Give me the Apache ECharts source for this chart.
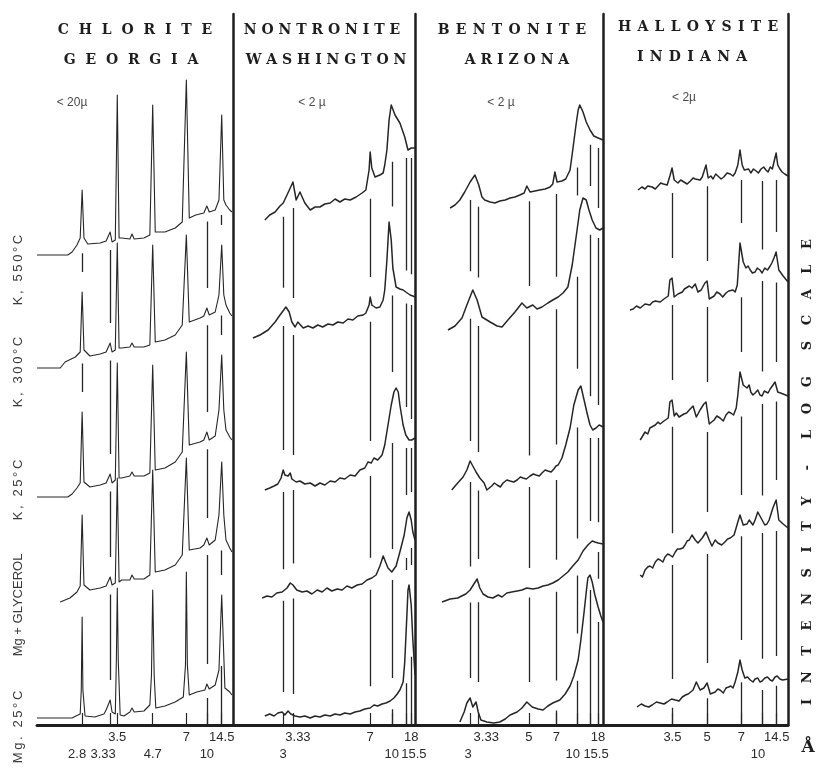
<!DOCTYPE html>
<html><head><meta charset="utf-8">
<script src="https://cdn.jsdelivr.net/npm/echarts@6/dist/echarts.min.js"></script>
<style>html,body{margin:0;padding:0;background:#fff}#c{width:817px;height:771px}</style>
</head><body><div id="c"></div>
<script>
// ---------------- DATA (2-theta in degrees, intensity in chart units, log scale, traces stacked) -------------
// Chlorite, Georgia (<20 micron)
const chlMg25 = [[40.3,7],[33.8,7],[33.1,9],[32.3,11],[32.1,35],[31.94,108],[31.8,35],[31.4,9],[29.6,8],[27.9,11],[27.5,15],[26.75,25],[26.4,13],[25.8,11],[25.6,65],[25.43,137],[25.25,65],[24.9,10],[24.2,9],[23.1,13],[22.7,17],[22.3,13],[20.5,14],[19.4,20],[19.1,50],[18.87,135],[18.6,50],[18.3,17],[16.6,19],[14.7,23],[13.2,28],[12.8,60],[12.64,153],[12.45,60],[12.1,30],[10.7,33],[9.2,35],[8.84,41],[8.4,36],[7.3,40],[6.6,55],[6.3,100],[6.09,130],[5.9,100],[5.5,37],[4.6,33],[4.2,30]];
const chlMgGly = [[36.0,123],[34.2,127],[32.9,133],[32.3,139],[31.94,210],[31.6,140],[30.5,135],[28.6,137],[27.5,139],[26.75,148],[26.4,140],[25.8,142],[25.43,247],[25.1,143],[24.6,145],[23.1,145],[22.7,150],[22.3,146],[20.5,146],[19.4,150],[18.87,255],[18.4,153],[16.6,155],[14.7,160],[13.4,170],[12.64,267],[12.1,175],[10.1,177],[9.4,180],[8.84,187],[8.4,180],[7.3,185],[6.6,210],[6.09,263],[5.7,210],[5.3,185],[4.6,177],[4.2,173]];
const chlK25 = [[40.3,228],[34.6,228],[33.8,231],[32.9,237],[32.3,242],[31.94,313],[31.6,243],[30.5,238],[28.6,240],[27.5,242],[26.75,251],[26.4,242],[25.8,245],[25.43,362],[25.1,247],[24.6,247],[23.1,249],[22.7,253],[22.3,249],[20.5,249],[19.4,252],[18.87,360],[18.4,255],[16.6,257],[14.7,263],[13.4,273],[12.64,373],[12.1,280],[10.1,283],[9.4,285],[8.84,293],[8.4,285],[7.3,289],[6.6,315],[6.09,370],[5.7,315],[5.3,295],[4.6,288],[4.2,285]];
const chlK300 = [[40.3,357],[36.0,357],[35.1,363],[33.2,368],[32.3,373],[31.94,433],[31.6,375],[30.5,369],[28.6,371],[27.5,373],[26.75,382],[26.4,373],[25.8,375],[25.43,482],[25.1,377],[24.6,377],[23.1,378],[22.7,382],[22.3,378],[20.5,378],[19.4,380],[18.87,480],[18.4,383],[16.6,385],[14.7,390],[13.4,400],[12.64,490],[12.1,403],[10.1,407],[9.4,409],[8.84,417],[8.4,410],[7.3,413],[6.6,430],[6.09,480],[5.7,430],[5.3,420],[4.6,412],[4.2,409]];
const chlK550 = [[40.3,470],[34.6,470],[33.8,473],[32.9,480],[32.3,487],[31.94,535],[31.6,487],[30.9,481],[28.6,482],[27.5,484],[26.75,493],[26.4,483],[25.8,485],[25.43,630],[25.1,487],[24.6,487],[23.1,486],[22.7,491],[22.3,486],[20.5,487],[19.4,490],[18.87,620],[18.4,493],[16.6,493],[14.7,497],[13.4,503],[12.64,645],[12.1,507],[10.9,510],[9.4,512],[8.84,519],[8.4,513],[7.3,515],[6.6,525],[6.09,610],[5.7,525],[5.3,520],[4.6,515],[4.2,513]];

// Nontronite, Washington (<2 micron)
const nonMg25 = [[31.8,9],[30.9,11],[30.1,9],[29.4,12],[28.6,13],[28.1,10],[27.5,14],[27.0,11],[26.2,9],[25.3,8],[24.4,9],[23.4,7],[22.5,9],[21.6,8],[20.7,10],[19.7,9],[18.8,11],[17.9,10],[17.0,12],[16.0,11],[15.1,13],[14.2,14],[13.3,16],[12.3,17],[11.6,20],[10.9,19],[10.1,21],[9.4,22],[8.6,24],[7.9,27],[7.3,31],[6.8,35],[6.2,43],[5.9,63],[5.5,110],[5.3,135],[5.1,140],[4.7,120],[4.4,85],[4.0,50]];
const nonMgGly = [[32.3,127],[31.4,129],[30.5,128],[29.6,132],[28.6,133],[27.7,137],[27.1,142],[26.6,140],[25.9,135],[24.9,133],[24.0,134],[23.1,131],[22.1,135],[21.2,133],[20.3,137],[19.4,134],[18.4,136],[17.5,135],[16.6,139],[15.7,137],[14.7,140],[13.8,141],[12.9,145],[12.0,147],[11.2,150],[10.5,159],[9.9,169],[9.6,167],[9.0,157],[8.3,153],[7.5,159],[6.8,173],[6.0,190],[5.5,207],[5.1,213],[4.7,205],[4.4,193],[4.0,185]];
const nonK25 = [[31.8,235],[30.9,237],[30.1,239],[29.4,241],[28.8,247],[28.4,255],[28.1,250],[27.5,249],[27.1,252],[26.8,246],[26.0,243],[25.3,244],[24.4,241],[23.4,242],[22.5,239],[21.6,242],[20.7,240],[19.7,244],[18.8,243],[17.9,247],[17.0,246],[16.0,250],[15.1,249],[14.2,255],[13.3,257],[12.7,263],[12.1,262],[11.6,267],[10.9,265],[10.1,270],[9.6,280],[9.0,300],[8.4,320],[7.9,333],[7.5,337],[7.1,333],[6.8,320],[6.2,300],[5.7,290],[5.1,285],[4.6,285],[4.0,287]];
const nonK300 = [[34.0,387],[32.7,390],[31.2,395],[29.9,403],[29.0,410],[28.3,415],[27.9,418],[27.3,413],[26.8,403],[26.2,398],[25.7,403],[24.7,397],[23.8,399],[22.9,397],[22.0,400],[21.1,398],[20.1,401],[19.2,400],[18.3,403],[17.3,402],[16.4,406],[15.5,405],[14.6,409],[13.6,410],[13.1,412],[12.5,420],[12.3,428],[12.0,420],[11.2,417],[10.5,418],[9.9,425],[9.6,435],[9.2,465],[8.8,503],[8.4,485],[8.1,457],[7.5,438],[6.8,436],[6.2,435],[5.7,433],[4.9,430],[4.4,429],[4.0,428]];
const nonK550 = [[31.8,505],[30.9,510],[29.9,513],[29.0,519],[28.4,522],[27.7,530],[27.1,537],[26.6,543],[26.0,525],[25.3,533],[24.4,522],[23.4,515],[22.5,518],[21.6,518],[20.7,521],[19.7,522],[18.8,526],[17.9,523],[17.0,526],[16.0,525],[14.9,528],[13.8,532],[13.1,535],[12.5,555],[12.3,573],[12.0,557],[11.4,548],[10.5,550],[9.9,552],[9.6,560],[9.2,575],[8.8,605],[8.4,620],[7.7,610],[6.8,602],[5.9,588],[5.3,575],[4.7,577],[4.0,577]];

// Bentonite, Arizona (<2 micron)
const benMg25 = [[30.5,3],[29.7,13],[29.2,22],[28.6,27],[28.1,18],[27.5,23],[27.1,13],[26.6,5],[25.5,3],[24.2,2],[23.1,3],[22.1,6],[21.2,10],[19.9,13],[19.0,17],[18.1,23],[17.1,18],[16.0,16],[15.1,15],[14.2,19],[13.3,22],[12.0,25],[11.0,31],[10.1,39],[9.4,49],[8.6,65],[8.1,85],[7.5,113],[7.1,133],[6.8,147],[6.4,150],[6.0,143],[5.5,130],[4.9,118],[4.4,109],[4.0,103]];
const benMgGly = [[33.8,123],[32.3,126],[30.9,127],[29.4,131],[28.6,135],[27.9,141],[27.3,146],[26.8,137],[26.2,131],[25.3,128],[24.4,127],[23.4,130],[22.7,128],[21.8,132],[20.9,133],[19.9,134],[19.0,135],[18.1,137],[17.0,136],[16.0,137],[15.1,139],[14.2,140],[13.3,142],[12.3,145],[11.4,149],[10.5,153],[9.6,159],[8.6,165],[7.7,174],[6.8,180],[6.0,184],[5.5,183],[4.9,182],[4.0,181]];
const benK25 = [[32.0,235],[30.9,242],[29.9,248],[29.2,255],[28.6,264],[28.1,259],[27.5,253],[26.8,247],[26.0,242],[25.5,235],[24.6,239],[24.1,242],[23.6,240],[23.0,238],[22.5,242],[21.8,245],[21.2,244],[20.5,243],[19.9,245],[19.3,248],[18.8,247],[18.2,246],[17.5,249],[16.9,251],[16.4,250],[15.8,249],[15.3,252],[14.7,255],[14.2,254],[13.6,253],[13.1,256],[12.7,259],[12.3,260],[11.6,267],[10.9,280],[10.1,297],[9.4,320],[8.6,335],[8.1,339],[7.5,325],[7.0,313],[6.4,300],[5.9,295],[5.3,297],[4.7,300],[4.0,298]];
const benK300 = [[32.7,395],[31.4,399],[30.1,407],[29.2,420],[28.1,435],[27.3,425],[26.4,408],[24.9,403],[23.6,399],[22.7,398],[21.6,405],[20.3,413],[19.0,422],[18.1,417],[17.0,420],[16.2,416],[15.3,418],[14.2,422],[13.3,425],[12.3,428],[11.4,432],[10.5,438],[9.7,460],[8.8,495],[8.3,515],[7.7,527],[7.1,525],[6.6,515],[6.0,505],[5.3,497],[4.6,495],[4.0,497]];
const benK550 = [[32.3,517],[31.4,520],[30.5,525],[29.6,533],[28.6,543],[27.7,550],[27.0,540],[26.4,528],[25.9,525],[24.9,523],[24.0,522],[23.1,524],[22.1,525],[21.2,527],[20.3,528],[19.4,530],[18.6,532],[18.1,539],[17.5,533],[16.6,534],[15.7,535],[14.7,536],[13.8,538],[13.3,541],[12.9,553],[12.5,543],[11.6,544],[10.9,546],[10.1,555],[9.6,575],[9.0,600],[8.6,615],[8.3,620],[7.7,613],[7.1,603],[6.4,595],[5.7,589],[4.9,587],[4.0,585]];

// Halloysite, Indiana (<2 micron)
const halMg25 = [[32.0,18],[31.2,21],[30.5,19],[29.8,18],[29.2,20],[28.4,23],[27.7,22],[27.0,21],[26.4,23],[25.6,26],[24.9,25],[24.2,24],[23.6,28],[23.0,30],[22.5,31],[21.6,35],[21.0,43],[20.7,45],[20.3,35],[19.6,37],[19.0,42],[18.4,31],[17.5,33],[17.0,36],[16.6,35],[16.0,32],[15.5,37],[15.0,38],[14.6,39],[14.2,37],[13.8,43],[13.3,53],[12.9,65],[12.5,55],[12.0,47],[11.5,48],[11.0,45],[10.5,43],[10.1,46],[9.6,47],[9.2,43],[8.8,44],[8.3,47],[7.8,48],[7.3,45],[6.9,44],[6.4,48],[6.0,49],[5.5,46],[5.0,45],[4.0,46]];
const halMgGly = [[31.4,150],[31.0,148],[30.5,155],[30.0,158],[29.6,159],[29.1,157],[28.6,163],[28.1,166],[27.7,165],[27.2,163],[26.8,168],[26.3,171],[25.9,170],[25.4,168],[24.9,173],[24.5,176],[24.0,176],[23.5,177],[23.1,180],[22.7,184],[22.3,185],[21.8,190],[21.2,185],[20.7,182],[19.9,187],[19.2,193],[18.6,185],[18.1,179],[17.5,185],[17.0,182],[16.3,180],[15.7,183],[15.2,186],[14.7,187],[14.0,190],[13.3,203],[12.9,210],[12.3,200],[11.6,201],[11.2,205],[10.9,203],[10.5,200],[10.1,205],[9.6,213],[9.0,207],[8.7,206],[8.3,200],[7.9,201],[7.5,205],[6.8,217],[6.2,225],[5.7,205],[4.9,201],[4.0,197]];
const halK25 = [[31.4,285],[30.5,293],[30.0,291],[29.6,297],[28.6,300],[28.1,303],[27.7,301],[27.0,304],[26.2,307],[25.9,323],[25.5,325],[25.1,309],[24.7,312],[24.2,308],[23.3,311],[22.8,312],[22.3,315],[21.6,319],[21.0,308],[20.3,315],[19.6,321],[19.2,323],[18.6,301],[17.7,305],[17.2,309],[16.6,307],[16.0,304],[15.5,310],[15.0,313],[14.6,312],[14.1,310],[13.6,317],[13.3,330],[12.9,353],[12.3,340],[11.6,337],[11.2,340],[10.9,333],[10.5,330],[10.1,332],[9.6,335],[9.2,330],[8.8,329],[8.4,334],[7.7,332],[7.3,336],[7.0,335],[6.4,343],[5.9,333],[4.9,331],[4.0,329]];
const halK300 = [[33.3,415],[32.7,416],[32.1,419],[31.4,417],[30.5,421],[29.6,420],[29.1,423],[28.6,424],[27.7,423],[27.0,426],[26.2,429],[25.9,445],[25.5,447],[25.1,428],[24.8,429],[24.4,431],[23.6,433],[23.2,436],[22.9,436],[22.3,439],[21.8,437],[21.2,441],[20.7,433],[20.1,435],[19.4,442],[19.0,444],[18.6,426],[17.7,429],[17.2,433],[16.6,431],[16.1,428],[15.5,432],[15.0,434],[14.2,435],[13.8,433],[13.4,440],[12.9,482],[12.3,463],[11.8,457],[11.4,459],[11.0,455],[10.6,452],[10.1,453],[9.7,457],[9.2,455],[8.8,452],[8.3,457],[7.8,455],[7.3,459],[7.0,462],[6.6,467],[6.2,473],[5.7,455],[4.9,449],[4.0,443]];
const halK550 = [[31.8,535],[31.1,538],[30.5,536],[30.0,539],[29.2,538],[28.6,536],[28.1,539],[27.6,542],[27.1,541],[26.4,540],[25.9,549],[25.5,557],[25.1,545],[24.4,542],[23.9,545],[23.3,543],[22.7,541],[22.1,544],[21.6,547],[21.2,546],[20.3,545],[19.9,548],[19.6,549],[19.2,560],[18.8,547],[18.3,549],[17.9,546],[17.4,551],[17.0,549],[16.4,546],[15.9,548],[15.3,552],[14.7,551],[14.2,549],[13.8,552],[13.3,560],[12.9,575],[12.5,560],[12.1,555],[11.8,553],[11.3,556],[10.9,552],[10.4,556],[9.9,554],[9.5,552],[9.0,556],[8.5,558],[8.1,555],[7.7,553],[7.3,558],[6.9,556],[6.6,563],[6.2,572],[5.9,560],[5.5,556],[5.1,553],[4.6,551],[4.0,549]];

// reference d-spacing lines drawn between the traces (2-theta)
const refChl = [31.94, 26.75, 8.84, 6.09];
const refNon = [28.4, 26.6, 12.3, 8.3, 5.7, 4.7];
const refBen = [28.6, 27.1, 17.73, 12.64, 8.84, 6.4, 4.91];
const refHal = [25.43, 19.0, 12.64, 8.84, 6.09];

// bottom tick positions (2-theta), their d-spacing labels (Angstrom) and label row (0 upper, 1 lower)
const ticksChl = [31.94, 26.75, 25.43, 18.87, 12.64, 8.84, 6.09];
const labelsChl = ['2.8', '3.33', '3.5', '4.7', '7', '10', '14.5'];
const rowsChl = [1, 1, 0, 1, 0, 1, 0];
const ticksNon = [28.4, 26.6, 12.3, 8.3, 5.7, 4.7];
const labelsNon = ['3', '3.33', '7', '10', '15.5', '18'];
const rowsNon = [1, 0, 0, 1, 1, 0];
const ticksBen = [28.6, 27.1, 17.73, 12.64, 8.84, 6.4, 4.91];
const labelsBen = ['3', '3.33', '5', '7', '10', '15.5', '18'];
const rowsBen = [1, 0, 0, 0, 1, 1, 0];
const ticksHal = [25.43, 19.0, 12.64, 8.84, 6.09];
const labelsHal = ['3.5', '5', '7', '10', '14.5'];
const rowsHal = [0, 0, 0, 1, 0];

const titles1 = ['CHLORITE', 'NONTRONITE', 'BENTONITE', 'HALLOYSITE'];
const titles2 = ['GEORGIA', 'WASHINGTON', 'ARIZONA', 'INDIANA'];
const sizes = ['< 20µ', '< 2 µ', '< 2 µ', '< 2µ'];
const treatments = ['Mg. 25°C', 'Mg + GLYCEROL', 'K, 25°C', 'K, 300°C', 'K, 550°C'];
const yAxisTitle = 'INTENSITY - LOG SCALE';

// ---------------- LAYOUT / STYLE ----------------
const layout = [
  {left: 37, width: 196, max: 40.3},
  {left: 233, width: 182, max: 37.7},
  {left: 415, width: 188, max: 38.8},
  {left: 603, width: 185, max: 38.3}
];
const GRID_TOP = 14, GRID_H = 711;
const nudges = [
  {'2.8': -5, '3.33': -7},
  {'3.33': 5, '15.5': 8},
  {'3': -2, '3.33': 8, '10': -4, '15.5': 6},
  {'10': -4}
];
const titlePos = [[135, 30, 131, 60], [322, 30, 326, 60], [512, 30, 517, 60], [698, 27, 692, 57]];
const titleSep = [['\u2002\u2009', '\u2002\u2009'], [' ', ' '], [' \u200a', ' '], [' \u200a', ' \u200a']];
const sizePos = [[72, 103], [312, 103], [501, 103], [684, 98]];
const treatPos = [727, 605, 490, 372, 270];

const panels = [
  {traces: [chlMg25, chlMgGly, chlK25, chlK300, chlK550], ref: refChl, ticks: ticksChl, labels: labelsChl, rows: rowsChl},
  {traces: [nonMg25, nonMgGly, nonK25, nonK300, nonK550], ref: refNon, ticks: ticksNon, labels: labelsNon, rows: rowsNon},
  {traces: [benMg25, benMgGly, benK25, benK300, benK550], ref: refBen, ticks: ticksBen, labels: labelsBen, rows: rowsBen},
  {traces: [halMg25, halMgGly, halK25, halK300, halK550], ref: refHal, ticks: ticksHal, labels: labelsHal, rows: rowsHal}
];

const INK = '#262626';
const LABEL_FONT = '"Liberation Sans", Arial, sans-serif';
const GAP_TOP = 8, GAP_BOTTOM = 20;

function interp(tr, x) {
  for (let i = 0; i < tr.length - 1; i++) {
    const [x1, y1] = tr[i], [x2, y2] = tr[i + 1];
    if ((x - x1) * (x - x2) <= 0 && x1 !== x2) return y1 + (y2 - y1) * (x - x1) / (x2 - x1);
  }
  return null;
}
function windowVals(tr, x, w) {
  const v = [];
  [x - w, x, x + w].forEach(q => { const y = interp(tr, q); if (y !== null) v.push(y); });
  tr.forEach(p => { if (Math.abs(p[0] - x) <= w) v.push(p[1]); });
  return v;
}

const rich = {};
for (let s = -10; s <= 10; s++) {
  rich['s' + (s + 10)] = {
    fontSize: 13, fontFamily: LABEL_FONT, color: '#2b2b2b', lineHeight: 16,
    padding: s >= 0 ? [0, 0, 0, 2 * s] : [0, -2 * s, 0, 0]
  };
}
function makeFormatter(p, i) {
  return v => {
    const k = p.ticks.findIndex(t => Math.abs(t - v) < 1e-6);
    if (k < 0) return '';
    const s = nudges[i][p.labels[k]] || 0;
    return '{s' + (s + 10) + '|' + p.labels[k] + '}';
  };
}

const grid = [], xAxis = [], yAxis = [], series = [];
panels.forEach((p, i) => {
  const L = layout[i];
  grid.push({left: L.left, width: L.width, top: GRID_TOP, height: GRID_H});
  // axis line + ticks
  xAxis.push({
    gridIndex: i, type: 'value', inverse: true, min: 4, max: L.max, position: 'bottom',
    axisLine: {show: true, onZero: false, lineStyle: {color: '#1e1e1e', width: 3}},
    axisTick: {show: true, inside: true, length: 12, customValues: p.ticks, lineStyle: {color: INK, width: 1.2}},
    axisLabel: {show: false}, splitLine: {show: false}
  });
  yAxis.push({
    gridIndex: i, type: 'value', min: 0, max: GRID_H, position: 'right',
    axisLine: {show: true, onZero: false, lineStyle: {color: '#1e1e1e', width: 2.5}},
    axisTick: {show: false}, axisLabel: {show: false}, splitLine: {show: false}
  });
});
// two label rows per panel; the axis end values carry empty labels so no real label is an end label
[0, 1].forEach(row => {
  panels.forEach((p, i) => {
    const L = layout[i];
    const vals = [4].concat(p.ticks.filter((t, k) => p.rows[k] === row)).concat([L.max]);
    xAxis.push({
      gridIndex: i, type: 'value', inverse: true, min: 4, max: L.max, position: 'bottom',
      axisLine: {show: false}, axisTick: {show: false},
      axisLabel: {show: true, margin: row === 0 ? 4 : 21, customValues: vals, formatter: makeFormatter(p, i), rich: rich,
        showMinLabel: false, showMaxLabel: false, hideOverlap: false},
      splitLine: {show: false}
    });
  });
});

panels.forEach((p, i) => {
  p.traces.forEach(tr => {
    series.push({
      type: 'line', xAxisIndex: i, yAxisIndex: i, data: tr, showSymbol: false, symbol: 'none',
      silent: true, animation: false, clip: false,
      lineStyle: {color: INK, width: i === 0 ? 1.1 : 1.5, join: 'round'}
    });
  });
  // reference lines in the gaps between consecutive traces
  const segs = [];
  p.ref.forEach(x => {
    for (let t = 0; t < p.traces.length - 1; t++) {
      const lo = p.traces[t], up = p.traces[t + 1];
      if (interp(lo, x) === null || interp(up, x) === null) continue;
      const top = Math.min(...windowVals(up, x, 1.0)) - GAP_TOP;
      const bot = Math.max(...windowVals(lo, x, 0.4)) + GAP_BOTTOM;
      if (top - bot >= 6) segs.push({coords: [[x, bot], [x, top]]});
    }
    const b = p.traces[0];
    if (interp(b, x) !== null) {
      const top = Math.min(...windowVals(b, x, 0.4)) - GAP_TOP;
      if (top > 12) segs.push({coords: [[x, 0], [x, top]]});
    }
  });
  series.push({
    type: 'lines', coordinateSystem: 'cartesian2d', xAxisIndex: i, yAxisIndex: i,
    data: segs, silent: true, animation: false,
    lineStyle: {color: INK, width: 1.3, opacity: 1}
  });
});

// text
const graphic = [];
function txt(str, x, y, font, fill, rot) {
  graphic.push({
    type: 'text', x: x, y: y, rotation: rot || 0, silent: true,
    style: {text: str, font: font, fill: fill || '#1e1e1e', textAlign: 'center', textVerticalAlign: 'middle', align: 'center', verticalAlign: 'middle'}
  });
}
const spaced = (s, sep) => s.split('').join(sep);
const TITLE_FONT = 'bold 14px "DejaVu Serif", serif';
titles1.forEach((t, i) => {
  txt(spaced(t, titleSep[i][0]), titlePos[i][0], titlePos[i][1], TITLE_FONT);
  txt(spaced(titles2[i], titleSep[i][1]), titlePos[i][2], titlePos[i][3], TITLE_FONT);
  txt(sizes[i], sizePos[i][0], sizePos[i][1], '12px ' + LABEL_FONT, '#4a4a4a');
});
treatments.forEach((t, i) => {
  const s = i === 1 ? t : spaced(t, '\u2009');
  txt(s, 18, treatPos[i], '13px ' + LABEL_FONT, '#3a3a3a', Math.PI / 2);
});
const words = yAxisTitle.split(' ').map(w => spaced(w, '\u2003\u2009'));
txt(words.join('\u2003\u2003'), 808, 472, 'bold 13px "DejaVu Serif", serif', '#1e1e1e', Math.PI / 2);
txt('Å', 808, 748, 'bold 17px "DejaVu Serif", serif', '#1e1e1e');

const chart = echarts.init(document.getElementById('c'));
chart.setOption({
  backgroundColor: '#ffffff',
  animation: false,
  grid: grid, xAxis: xAxis, yAxis: yAxis, series: series, graphic: graphic
});
</script></body></html>
